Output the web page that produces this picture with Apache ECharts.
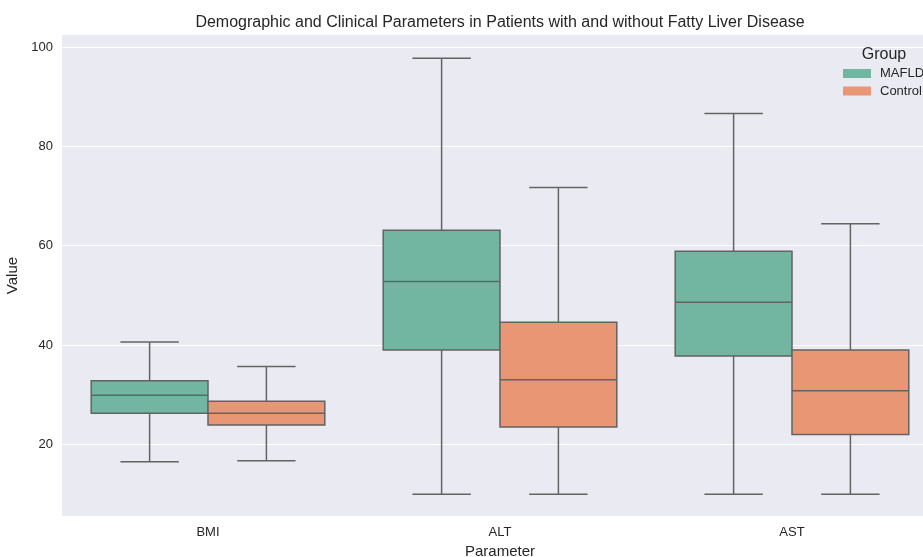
<!DOCTYPE html>
<html>
<head>
<meta charset="utf-8">
<script src="https://cdn.jsdelivr.net/npm/echarts@6/dist/echarts.min.js"></script>
<style>html,body{margin:0;padding:0;background:#fff;}#c{width:923px;height:557px;}</style>
</head>
<body>
<div id="c"></div>
<script>
var categories = ['BMI', 'ALT', 'AST'];
var groups = ['MAFLD', 'Control'];
var mafldLow  = [16.5, 10.0, 10.0];
var mafldQ1   = [26.3, 39.0, 37.8];
var mafldMed  = [29.9, 52.8, 48.6];
var mafldQ3   = [32.8, 63.1, 58.9];
var mafldHigh = [40.6, 97.7, 86.6];
var controlLow  = [16.7, 10.0, 10.0];
var controlQ1   = [23.9, 23.5, 22.0];
var controlMed  = [26.3, 33.0, 30.8];
var controlQ3   = [28.7, 44.6, 39.0];
var controlHigh = [35.7, 71.7, 64.4];
var yTicks = [20, 40, 60, 80, 100];

var colors = ['#72b6a1', '#e99675'];
var lineColor = '#636363';
var font = 'Liberation Sans, Arial, sans-serif';

function build(low, q1, med, q3, high) {
  return categories.map(function (c, i) { return [i, low[i], q1[i], med[i], q3[i], high[i]]; });
}
var dataSets = [
  build(mafldLow, mafldQ1, mafldMed, mafldQ3, mafldHigh),
  build(controlLow, controlQ1, controlMed, controlQ3, controlHigh)
];

function makeRender(gi) {
  return function (params, api) {
    var band = api.size([1, 0])[0];
    var cx = api.coord([api.value(0), 0])[0] + (gi === 0 ? -0.2 : 0.2) * band;
    var bw = 0.4 * band;
    var cw = 0.2 * band;
    var yLow = api.coord([0, api.value(1)])[1];
    var yQ1 = api.coord([0, api.value(2)])[1];
    var yMed = api.coord([0, api.value(3)])[1];
    var yQ3 = api.coord([0, api.value(4)])[1];
    var yHigh = api.coord([0, api.value(5)])[1];
    var ls = { stroke: lineColor, lineWidth: 1.5 };
    return {
      type: 'group',
      children: [
        { type: 'line', shape: { x1: cx, y1: yHigh, x2: cx, y2: yQ3 }, style: ls },
        { type: 'line', shape: { x1: cx, y1: yQ1, x2: cx, y2: yLow }, style: ls },
        { type: 'line', shape: { x1: cx - cw / 2, y1: yHigh, x2: cx + cw / 2, y2: yHigh }, style: ls },
        { type: 'line', shape: { x1: cx - cw / 2, y1: yLow, x2: cx + cw / 2, y2: yLow }, style: ls },
        { type: 'rect', shape: { x: cx - bw / 2, y: yQ3, width: bw, height: yQ1 - yQ3 },
          style: { fill: colors[gi], stroke: lineColor, lineWidth: 1.5 } },
        { type: 'line', shape: { x1: cx - bw / 2, y1: yMed, x2: cx + bw / 2, y2: yMed }, style: ls }
      ]
    };
  };
}

var chart = echarts.init(document.getElementById('c'), null, { renderer: 'canvas' });
chart.setOption({
  animation: false,
  backgroundColor: '#ffffff',
  title: [
    { text: 'Demographic and Clinical Parameters in Patients with and without Fatty Liver Disease',
      left: 495, top: 10, textAlign: 'center',
      textStyle: { fontFamily: font, fontSize: 16, fontWeight: 'normal', color: '#262626' } },
    { text: 'Group', left: 879, top: 42, textAlign: 'center',
      textStyle: { fontFamily: font, fontSize: 16, fontWeight: 'normal', color: '#262626' } }
  ],
  legend: {
    data: groups,
    left: 838, top: 62, orient: 'vertical',
    icon: 'rect', itemWidth: 28, itemHeight: 9, itemGap: 4.5,
    textStyle: { fontFamily: font, fontSize: 13, lineHeight: 13, color: '#262626', padding: [0, 0, 0, 4] }
  },
  grid: { left: 62, right: -15, top: 35, bottom: 41, outerBoundsMode: 'none', containLabel: false,
    show: true, backgroundColor: '#eaeaf2', borderWidth: 0 },
  xAxis: {
    type: 'category', data: categories, boundaryGap: true,
    name: 'Parameter', nameLocation: 'middle', nameGap: 27,
    nameTextStyle: { fontFamily: font, fontSize: 15, color: '#262626' },
    axisLine: { show: false }, axisTick: { show: false },
    axisLabel: { fontFamily: font, fontSize: 13, color: '#262626', margin: 10 },
    splitLine: { show: false }
  },
  yAxis: {
    type: 'value', min: 5.6, max: 102.4, splitNumber: 5,
    name: 'Value', nameLocation: 'middle', nameGap: 36, nameRotate: 90,
    nameTextStyle: { fontFamily: font, fontSize: 15, color: '#262626' },
    axisLine: { show: false }, axisTick: { show: false },
    axisLabel: { fontFamily: font, fontSize: 13, color: '#262626', margin: 9,
      showMinLabel: false, showMaxLabel: false,
      formatter: function (v) { return yTicks.indexOf(v) >= 0 ? String(v) : ''; } },
    splitLine: { show: true, showMinLine: false, showMaxLine: false, lineStyle: { color: '#ffffff', width: 1.2 } }
  },
  series: groups.map(function (g, gi) {
    return {
      name: g, type: 'custom', renderItem: makeRender(gi),
      itemStyle: { color: colors[gi] },
      encode: { x: 0, y: [1, 2, 3, 4, 5] },
      data: dataSets[gi]
    };
  })
});
</script>
</body>
</html>
